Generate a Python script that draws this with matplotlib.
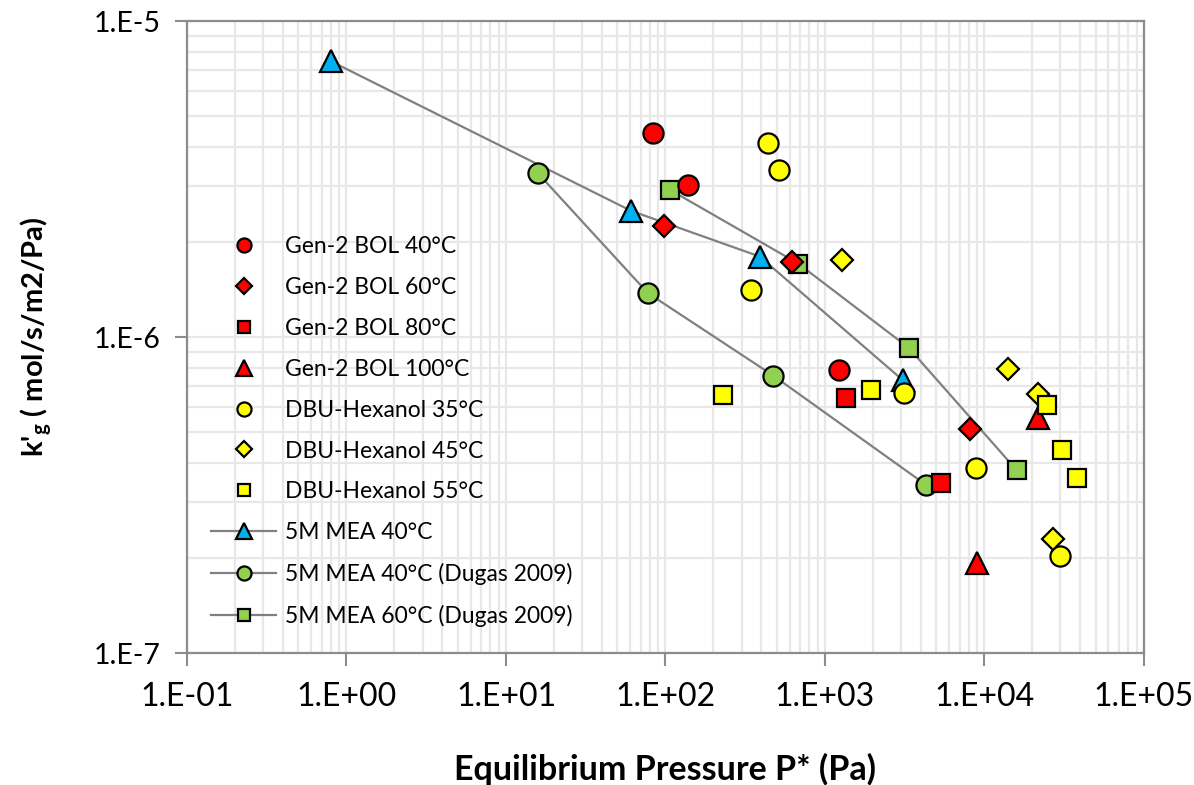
import matplotlib
matplotlib.use("Agg")
import matplotlib.pyplot as plt
import numpy as np

plt.rcParams['font.family'] = ['Lato', 'DejaVu Sans']
plt.rcParams['mathtext.fontset'] = 'custom'
plt.rcParams['mathtext.rm'] = 'Lato'
plt.rcParams['mathtext.bf'] = 'Lato:bold'

# Gen-2 BOL
g40_x = [83, 138, 1219]
g40_y = [4.43e-6, 3.02e-6, 7.86e-7]
g60_x = [97.3, 621, 8166]
g60_y = [2.24e-6, 1.73e-6, 5.12e-7]
g80_x = [1362, 5358]
g80_y = [6.43e-7, 3.46e-7]
g100_x = [21620, 8974]
g100_y = [5.54e-7, 1.93e-7]

# DBU-Hexanol
d35_x = [442, 512, 343, 3114, 8892, 29600]
d35_y = [4.12e-6, 3.37e-6, 1.41e-6, 6.64e-7, 3.86e-7, 2.03e-7]
d45_x = [1282, 14050, 21620, 26860]
d45_y = [1.76e-6, 7.94e-7, 6.60e-7, 2.29e-7]
d55_x = [230, 1953, 24660, 30540, 37960]
d55_y = [6.54e-7, 6.78e-7, 6.09e-7, 4.38e-7, 3.58e-7]

# 5M MEA
mea40_x = [0.798, 61.0, 390, 3078]
mea40_y = [7.47e-6, 2.51e-6, 1.80e-6, 7.31e-7]
dug40_x = [15.8, 77.5, 474, 4333]
dug40_y = [3.31e-6, 1.38e-6, 7.56e-7, 3.40e-7]
dug60_x = [107.6, 680, 3357, 15960]
dug60_y = [2.92e-6, 1.71e-6, 9.25e-7, 3.79e-7]

red = '#FF0000'
yel = '#FFFF00'
blue = '#00B0F0'
green = '#92D050'
lc = '#808080'

fig = plt.figure(figsize=(11.94, 7.85), dpi=100)
ax = fig.add_axes([0.1566, 0.168, 0.8014, 0.805])

ms = 14.5
mew = 1.6
line_kw = dict(color=lc, lw=1.6, mec='black', mew=mew, zorder=2)
ax.plot(mea40_x, mea40_y, marker='^', ms=ms + 1, mfc=blue, label='5M MEA 40°C', **line_kw)
ax.plot(dug40_x, dug40_y, marker='o', ms=ms, mfc=green, label='5M MEA 40°C (Dugas 2009)', **line_kw)
ax.plot(dug60_x, dug60_y, marker='s', ms=ms - 2, mfc=green, label='5M MEA 60°C (Dugas 2009)', **line_kw)

pt_kw = dict(ls='none', mec='black', mew=mew)
ax.plot(g40_x, g40_y, marker='o', ms=ms, mfc=red, label='Gen-2 BOL 40°C', zorder=3, **pt_kw)
ax.plot(g60_x, g60_y, marker='D', ms=ms - 3.5, mfc=red, label='Gen-2 BOL 60°C', zorder=3, **pt_kw)
ax.plot(g80_x, g80_y, marker='s', ms=ms - 2, mfc=red, label='Gen-2 BOL 80°C', zorder=3, **pt_kw)
ax.plot(g100_x, g100_y, marker='^', ms=ms + 1, mfc=red, label='Gen-2 BOL 100°C', zorder=3, **pt_kw)
ax.plot(d35_x, d35_y, marker='o', ms=ms, mfc=yel, label='DBU-Hexanol 35°C', zorder=4, **pt_kw)
ax.plot(d45_x, d45_y, marker='D', ms=ms - 3.5, mfc=yel, label='DBU-Hexanol 45°C', zorder=4, **pt_kw)
ax.plot(d55_x, d55_y, marker='s', ms=ms - 2, mfc=yel, label='DBU-Hexanol 55°C', zorder=4, **pt_kw)

ax.set_xscale('log')
ax.set_yscale('log')
ax.set_xlim(0.1, 1e5)
ax.set_ylim(1e-7, 1e-5)

xt = [1e-1, 1e0, 1e1, 1e2, 1e3, 1e4, 1e5]
xtl = ['1.E-01', '1.E+00', '1.E+01', '1.E+02', '1.E+03', '1.E+04', '1.E+05']
yt = [1e-7, 1e-6, 1e-5]
ytl = ['1.E-7', '1.E-6', '1.E-5']
ax.set_xticks(xt)
ax.set_xticklabels(xtl, fontsize=23)
ax.set_yticks(yt)
ax.set_yticklabels(ytl, fontsize=20.5)
ax.xaxis.set_minor_locator(matplotlib.ticker.LogLocator(base=10, subs=np.arange(2, 10)))
ax.yaxis.set_minor_locator(matplotlib.ticker.LogLocator(base=10, subs=np.arange(2, 10)))
ax.xaxis.set_minor_formatter(matplotlib.ticker.NullFormatter())
ax.yaxis.set_minor_formatter(matplotlib.ticker.NullFormatter())
ax.tick_params(which='minor', length=0)
ax.tick_params(which='major', length=9, width=1.5, color='#8c8c8c', direction='out')
ax.tick_params(axis='x', pad=12)
ax.tick_params(axis='y', pad=10)

ax.grid(True, which='both', color='#e8e8e8', lw=1.6, zorder=0)
ax.set_axisbelow(True)
for s in ax.spines.values():
    s.set_color('#8c8c8c')
    s.set_linewidth(1.6)

ax.set_xlabel('Equilibrium Pressure P* (Pa)', fontsize=24.5, fontweight='bold', labelpad=29)
ax.set_ylabel(r"k'$_\mathbf{g}$ ( mol/s/m2/Pa)", fontsize=21, fontweight='bold', labelpad=28)

h, l = ax.get_legend_handles_labels()
order = [3, 4, 5, 6, 7, 8, 9, 0, 1, 2]
ax.legend([h[i] for i in order], [l[i] for i in order], loc='upper left',
          bbox_to_anchor=(0.004, 0.693), frameon=False, fontsize=16.5,
          markerscale=0.7, handlelength=2.8, handletextpad=0.4, labelspacing=0.87)

fig.savefig('out.png', dpi=100)
